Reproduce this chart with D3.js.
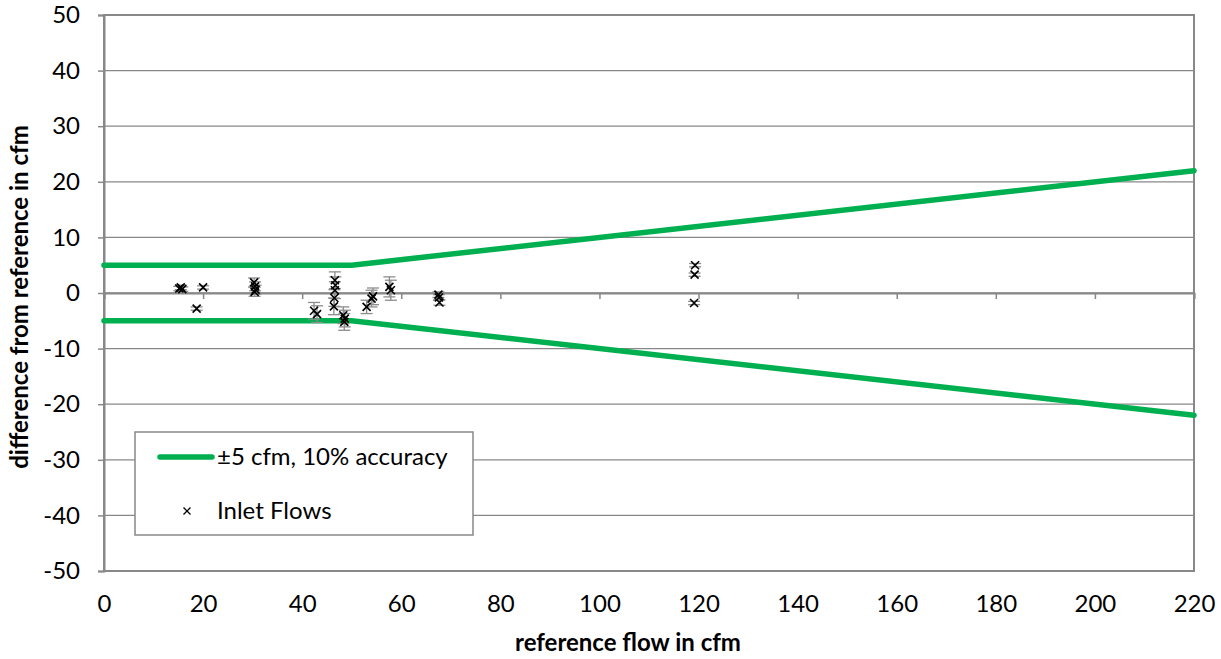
<!DOCTYPE html>
<html><head><meta charset="utf-8">
<script src="https://cdn.jsdelivr.net/npm/d3@7"></script>
<style>body{margin:0;background:#fff}svg{display:block}text{font-family:Lato,"Open Sans",sans-serif}</style>
</head><body>
<svg id="c" width="1221" height="659"></svg>
<script>
const flow = [15.2, 15.5, 15.8, 20.0, 18.7, 30.3, 30.5, 30.6, 30.4, 42.4, 43.0, 46.6, 46.7, 46.6, 46.5, 46.4, 48.3, 48.6, 48.5, 53.0, 54.0, 54.3, 57.6, 57.9, 67.5, 67.7, 67.6, 119.3, 119.2, 119.1];
const diff = [0.8, 1.0, 0.7, 1.0, -2.8, 1.9, 1.2, 0.6, 0.2, -3.2, -3.8, 2.3, 1.4, 0.5, -0.9, -2.4, -4.0, -4.6, -5.2, -2.5, -1.0, -0.6, 1.1, 0.5, -0.3, -1.7, -0.8, 5.0, 3.3, -1.8];
const errs = [0.4, 0.4, 0.4, 0.3, 0.3, 0.8, 0.8, 0.8, 0.8, 1.5, 1.5, 1.5, 1.5, 1.5, 1.5, 1.5, 1.5, 1.5, 1.5, 1.2, 1.5, 1.5, 1.8, 1.8, 0.5, 0.5, 0.5, 0.3, 0.3, 0.3];
const limitX = [0, 50, 220];
const upperLimit = [5, 5, 22];
const lowerLimit = [-5, -5, -22];
const xTicks = [0, 20, 40, 60, 80, 100, 120, 140, 160, 180, 200, 220];
const yTicks = [-50, -40, -30, -20, -10, 0, 10, 20, 30, 40, 50];
const legendLabels = ["±5 cfm, 10% accuracy", "Inlet Flows"];

const svg = d3.select("#c");
const L = 104, R = 1194, T = 15, B = 571;
const x = d3.scaleLinear().domain([0, 220]).range([L, R]);
const y = d3.scaleLinear().domain([-50, 50]).range([B, T]);
const grid = "#888888";
const fmt = d => String(d);

// gridlines
svg.append("g").selectAll("line").data(yTicks).join("line")
  .attr("x1", L).attr("x2", R).attr("y1", d => y(d)).attr("y2", d => y(d))
  .attr("stroke", grid).attr("stroke-width", 1.3);
// frame
svg.append("rect").attr("x", L).attr("y", T).attr("width", R - L).attr("height", B - T)
  .attr("fill", "none").attr("stroke", grid).attr("stroke-width", 2);

// y axis
const ya = svg.append("g").attr("transform", `translate(${L},0)`)
  .call(d3.axisLeft(y).tickValues(yTicks).tickSize(6).tickPadding(18).tickFormat(fmt));
ya.select(".domain").attr("stroke", grid).attr("stroke-width", 2);
ya.selectAll(".tick line").attr("stroke", grid).attr("stroke-width", 1.5);
ya.selectAll("text").attr("font-size", 24).attr("fill", "#000").style("font-family", "Lato");

// x axis on zero line (ticks), labels at bottom
const xa = svg.append("g").attr("transform", `translate(0,${y(0)})`)
  .call(d3.axisBottom(x).tickValues(xTicks).tickSize(6).tickFormat(""));
xa.select(".domain").attr("stroke", grid).attr("stroke-width", 2);
xa.selectAll(".tick line").attr("stroke", grid).attr("stroke-width", 1.5);
const xl = svg.append("g").attr("transform", `translate(0,${B})`)
  .call(d3.axisBottom(x).tickValues(xTicks).tickSize(0).tickPadding(24).tickFormat(fmt));
xl.select(".domain").remove();
xl.selectAll("text").attr("font-size", 24).attr("fill", "#000").style("font-family", "Lato");

// limit lines
const line = d3.line().x((d, i) => x(limitX[i])).y(d => y(d));
[upperLimit, lowerLimit].forEach(arr => {
  svg.append("path").attr("d", line(arr)).attr("fill", "none")
    .attr("stroke", "#00b050").attr("stroke-width", 5.5).attr("stroke-linecap", "round");
});

// error bars
const eb = svg.append("g").attr("stroke", "#8c8c8c").attr("stroke-width", 1.3);
flow.forEach((f, i) => {
  const cx = x(f), y1 = y(diff[i] + errs[i]), y2 = y(diff[i] - errs[i]);
  eb.append("line").attr("x1", cx).attr("x2", cx).attr("y1", y1).attr("y2", y2);
  eb.append("line").attr("x1", cx - 6).attr("x2", cx + 6).attr("y1", y1).attr("y2", y1);
  eb.append("line").attr("x1", cx - 6).attr("x2", cx + 6).attr("y1", y2).attr("y2", y2);
});

// x markers
const s = 4;
const mk = svg.append("g").attr("stroke", "#000").attr("stroke-width", 1.6);
flow.forEach((f, i) => {
  const cx = x(f), cy = y(diff[i]);
  mk.append("path").attr("d", `M${cx - s},${cy - s}L${cx + s},${cy + s}M${cx - s},${cy + s}L${cx + s},${cy - s}`);
});

// legend
const lg = svg.append("g");
lg.append("rect").attr("x", 135).attr("y", 432).attr("width", 338).attr("height", 103)
  .attr("fill", "#fff").attr("stroke", grid).attr("stroke-width", 1.5);
lg.append("line").attr("x1", 160).attr("x2", 212).attr("y1", 457).attr("y2", 457)
  .attr("stroke", "#00b050").attr("stroke-width", 5.5).attr("stroke-linecap", "round");
lg.append("text").attr("x", 217).attr("y", 457).attr("dy", "0.35em").attr("font-size", 24).text(legendLabels[0]);
const ms = 3.5;
lg.append("path").attr("d", `M${187 - ms},${511 - ms}L${187 + ms},${511 + ms}M${187 - ms},${511 + ms}L${187 + ms},${511 - ms}`)
  .attr("stroke", "#000").attr("stroke-width", 1.3);
lg.append("text").attr("x", 217).attr("y", 511).attr("dy", "0.35em").attr("font-size", 24).text(legendLabels[1]);

// axis titles
svg.append("text").attr("x", 628).attr("y", 651).attr("text-anchor", "middle")
  .attr("font-size", 24).attr("font-weight", "bold").text("reference flow in cfm");
svg.append("text").attr("transform", `translate(28,${(T + B) / 2 + 4}) rotate(-90)`).attr("text-anchor", "middle")
  .attr("font-size", 24).attr("font-weight", "bold").text("difference from reference in cfm");
</script>
</body></html>
